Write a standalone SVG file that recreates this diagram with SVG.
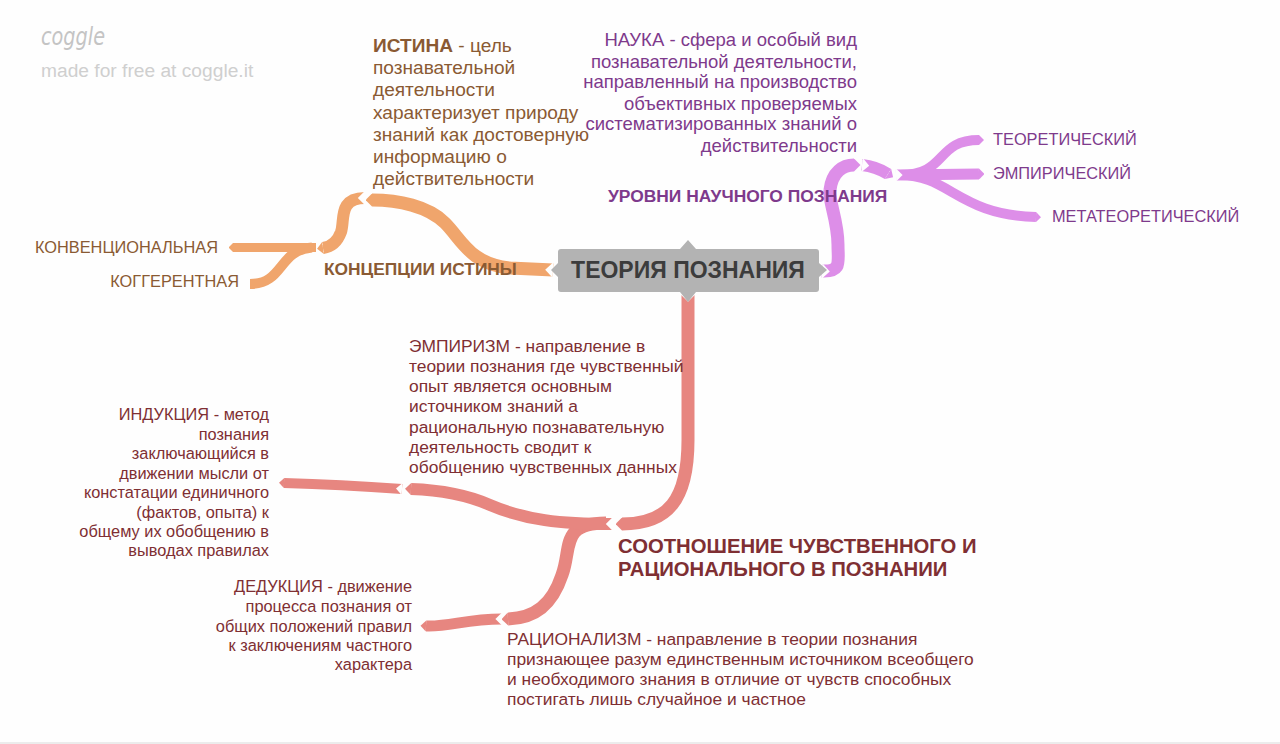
<svg xmlns="http://www.w3.org/2000/svg" width="1280" height="744" viewBox="0 0 1280 744">
<style>
text{font-family:"Liberation Sans",Arial,sans-serif;font-size:16.350px}
.b{fill:none;stroke-linecap:butt;stroke-linejoin:round}
.o{stroke:#f0a56c}.p{stroke:#dd8ee8}.r{stroke:#e78680}
.n{marker-start:url(#notch)}
.o .t{marker-end:url(#tipo)}.p .t{marker-end:url(#tipp)}.r .t{marker-end:url(#tipr)}
.to{fill:#8a5a33}.tp{fill:#7e3a8c}.tr{fill:#7f2f33}
.bd{font-weight:bold}.e{text-anchor:end}
</style>
<defs>
<marker id="notch" markerUnits="strokeWidth" markerWidth="0.7" markerHeight="1.2" viewBox="0 -0.6 0.7 1.2" refX="0" refY="0" orient="auto"><polygon points="0,-0.6 0.6,0 0,0.6" fill="#fefefe"/></marker>
<marker id="tipo" markerUnits="strokeWidth" markerWidth="0.5" markerHeight="1" viewBox="0 -0.5 0.5 1" refX="0" refY="0" orient="auto"><polygon points="0,-0.5 0.5,0 0,0.5" fill="#f0a56c"/></marker>
<marker id="tipp" markerUnits="strokeWidth" markerWidth="0.5" markerHeight="1" viewBox="0 -0.5 0.5 1" refX="0" refY="0" orient="auto"><polygon points="0,-0.5 0.5,0 0,0.5" fill="#dd8ee8"/></marker>
<marker id="tipr" markerUnits="strokeWidth" markerWidth="0.5" markerHeight="1" viewBox="0 -0.5 0.5 1" refX="0" refY="0" orient="auto"><polygon points="0,-0.5 0.5,0 0,0.5" fill="#e78680"/></marker>
</defs>
<rect width="1280" height="744" fill="#fefefe"/>
<rect y="742" width="1280" height="2" fill="#ececec"/>
<g id="connectors">
<g class="b o">
<path class="t" d="M250 284 C284 284 278 250 312 247.500" stroke-width="10" style="marker-end:none"/>
<path class="t" d="M316 247.500 L233 247.500" stroke-width="9"/>
<path class="n t" d="M553 270 L510 268 C470 264 462 240 445 223 C428 206 398 200 372 200" stroke-width="13"/>
<path class="n t" d="M365 198 C338 198 345 220 341 232 C337 243 330 247 323 248" stroke-width="12"/>
</g>
<g class="b p">
<path class="t" d="M900 175 C948 175 935 140 979 140" stroke-width="10"/>
<path class="t" d="M900 175 C950 175 958 215 1036 217" stroke-width="10"/>
<path class="n t" d="M896 175 L979 174" stroke-width="11"/>
<path class="n t" d="M822 271 C842 272 838 262 838 245 C838 220 828 200 830 190 C832 172 843 165 854 165" stroke-width="13"/>
<path class="n t" d="M862 165 C872 166 880 169 888 174" stroke-width="12"/>
</g>
<g class="b r">
<path class="n t" d="M688 294 L688 440 C688 500 668 524 622 524" stroke-width="13"/>
<path d="M606 523 C560 523 572 548 562 575 C552 605 535 618 508 619" class="t" stroke-width="13"/>
<path class="n t" d="M613 524 C560 524 525 520 490 505 C465 494 440 490 411 489" stroke-width="12"/>
<path class="n t" d="M402 489 C360 486 320 484 284 483" stroke-width="10"/>
<path class="n t" d="M502 619 C465 619 450 627 426 626" stroke-width="11"/>
</g>
</g>
<g id="watermark">
<text x="41" y="45" fill="#c4c4c4" style="font-family:'DejaVu Sans',sans-serif;font-size:24px;font-style:italic" textLength="64" lengthAdjust="spacingAndGlyphs">coggle</text>
<text x="41" y="77" style="font-size:19.200px" fill="#cfcfcf">made for free at coggle.it</text>
</g>
<g id="root">
<path d="M561 249 H680 L688 240 L696 249 H816 Q819 249 819 252 V263 L827 270 L819 277 V289 Q819 292 816 292 H696 L688 302 L680 292 H561 Q558 292 558 289 V277 L551 270 L558 263 V252 Q558 249 561 249 Z" fill="#b3b3b3"/>
<text x="688" y="278" text-anchor="middle" class="bd" style="font-size:23px" fill="#3c3c3c">ТЕОРИЯ ПОЗНАНИЯ</text>
</g>
<g id="node-istina">
<text class="to" style="font-size:19.100px"><tspan x="373" y="52"><tspan class="bd">ИСТИНА</tspan> - цель</tspan><tspan x="373" y="74">познавательной</tspan><tspan x="373" y="96">деятельности</tspan><tspan x="373" y="119">характеризует природу</tspan><tspan x="373" y="141">знаний как достоверную</tspan><tspan x="373" y="163">информацию о</tspan><tspan x="373" y="185">действительности</tspan></text>
</g>
<g id="node-koncepcii"><text x="324" y="275" class="to bd" style="font-size:17.350px">КОНЦЕПЦИИ ИСТИНЫ</text></g>
<g id="node-konv"><text x="218" y="253" class="to e">КОНВЕНЦИОНАЛЬНАЯ</text></g>
<g id="node-kog"><text x="239" y="287" class="to e">КОГГЕРЕНТНАЯ</text></g>
<g id="node-nauka">
<text class="tp e" style="font-size:18.500px"><tspan x="857" y="46">НАУКА - сфера и особый вид</tspan><tspan x="857" y="68">познавательной деятельности,</tspan><tspan x="857" y="88">направленный на производство</tspan><tspan x="857" y="110">объективных проверяемых</tspan><tspan x="857" y="130">систематизированных знаний о</tspan><tspan x="857" y="152">действительности</tspan></text>
</g>
<g id="node-urovni"><text x="608" y="202" class="tp bd" style="font-size:17.400px">УРОВНИ НАУЧНОГО ПОЗНАНИЯ</text></g>
<g id="node-teor"><text x="993" y="145" class="tp">ТЕОРЕТИЧЕСКИЙ</text></g>
<g id="node-emp"><text x="993" y="179" class="tp">ЭМПИРИЧЕСКИЙ</text></g>
<g id="node-meta"><text x="1052" y="222" class="tp">МЕТАТЕОРЕТИЧЕСКИЙ</text></g>
<g id="node-empirizm">
<text class="tr" style="font-size:17.400px"><tspan x="409" y="352">ЭМПИРИЗМ - направление в</tspan><tspan x="409" y="372">теории познания где чувственный</tspan><tspan x="409" y="392">опыт является основным</tspan><tspan x="409" y="412">источником знаний а</tspan><tspan x="409" y="433">рациональную познавательную</tspan><tspan x="409" y="453">деятельность сводит к</tspan><tspan x="409" y="473">обобщению чувственных данных</tspan></text>
</g>
<g id="node-indukciya">
<text class="tr e"><tspan x="269" y="420">ИНДУКЦИЯ - метод</tspan><tspan x="269" y="440">познания</tspan><tspan x="269" y="459">заключающийся в</tspan><tspan x="269" y="479">движении мысли от</tspan><tspan x="269" y="498">констатации единичного</tspan><tspan x="269" y="518">(фактов, опыта) к</tspan><tspan x="269" y="537">общему их обобщению в</tspan><tspan x="269" y="556">выводах правилах</tspan></text>
</g>
<g id="node-sootn">
<text class="tr bd" style="font-size:20.300px"><tspan x="618" y="553">СООТНОШЕНИЕ ЧУВСТВЕННОГО И</tspan><tspan x="618" y="576">РАЦИОНАЛЬНОГО В ПОЗНАНИИ</tspan></text>
</g>
<g id="node-dedukciya">
<text class="tr e"><tspan x="412" y="592">ДЕДУКЦИЯ - движение</tspan><tspan x="412" y="612">процесса познания от</tspan><tspan x="412" y="632">общих положений правил</tspan><tspan x="412" y="651">к заключениям частного</tspan><tspan x="412" y="670">характера</tspan></text>
</g>
<g id="node-racionalizm">
<text class="tr" style="font-size:17.400px"><tspan x="507" y="645">РАЦИОНАЛИЗМ - направление в теории познания</tspan><tspan x="507" y="665">признающее разум единственным источником всеобщего</tspan><tspan x="507" y="685">и необходимого знания в отличие от чувств способных</tspan><tspan x="507" y="705">постигать лишь случайное и частное</tspan></text>
</g>
</svg>
